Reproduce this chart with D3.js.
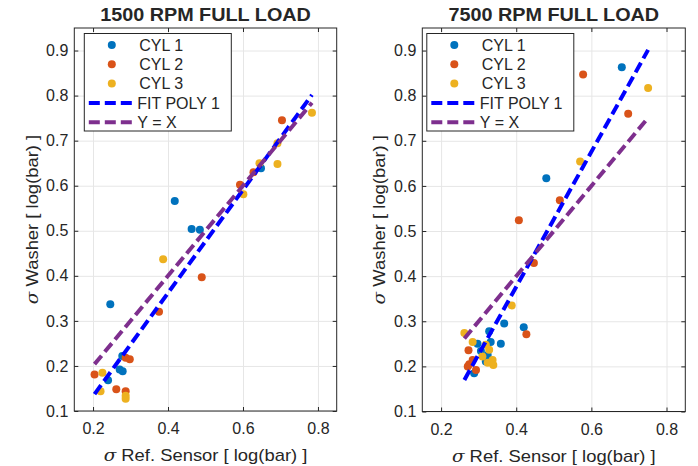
<!DOCTYPE html>
<html>
<head>
<meta charset="utf-8">
<script src="https://cdn.jsdelivr.net/npm/d3@7"></script>
<style>
  body { margin: 0; background: #fff; }
  text { font-family: Arial, "Liberation Sans", sans-serif; fill: #262626; }
</style>
</head>
<body>
<div id="chart"></div>
<script>
var svgWidth = 698;
var svgHeight = 466;

// ---- data ----
var titles = ["1500 RPM FULL LOAD", "7500 RPM FULL LOAD"];
var seriesNames = ["CYL 1", "CYL 2", "CYL 3"];
var lineNames = ["FIT POLY 1", "Y = X"];
var xTicks = [0.2, 0.4, 0.6, 0.8];
var yTicks = [0.1, 0.2, 0.3, 0.4, 0.5, 0.6, 0.7, 0.8, 0.9];

var cyl1_1500_x = [0.418, 0.463, 0.485, 0.246, 0.648, 0.278, 0.271, 0.279, 0.240];
var cyl1_1500_y = [0.566, 0.504, 0.502, 0.337, 0.639, 0.222, 0.192, 0.188, 0.168];
var cyl2_1500_x = [0.704, 0.628, 0.592, 0.490, 0.376, 0.204, 0.287, 0.298, 0.262, 0.287];
var cyl2_1500_y = [0.745, 0.630, 0.602, 0.397, 0.320, 0.181, 0.218, 0.215, 0.148, 0.144];
var cyl3_1500_x = [0.784, 0.692, 0.692, 0.644, 0.601, 0.387, 0.225, 0.220, 0.287, 0.287];
var cyl3_1500_y = [0.762, 0.694, 0.648, 0.650, 0.581, 0.437, 0.185, 0.144, 0.134, 0.127];

var cyl1_7500_x = [0.681, 0.480, 0.368, 0.420, 0.328, 0.297, 0.332, 0.359, 0.306, 0.324, 0.319, 0.288];
var cyl1_7500_y = [0.863, 0.617, 0.295, 0.287, 0.278, 0.250, 0.254, 0.250, 0.234, 0.225, 0.211, 0.185];
var cyl2_7500_x = [0.578, 0.698, 0.516, 0.407, 0.447, 0.427, 0.273, 0.275, 0.293, 0.284, 0.271];
var cyl2_7500_y = [0.847, 0.760, 0.568, 0.524, 0.429, 0.271, 0.236, 0.205, 0.192, 0.214, 0.200];
var cyl3_7500_x = [0.751, 0.570, 0.388, 0.262, 0.284, 0.319, 0.328, 0.310, 0.337, 0.324, 0.339];
var cyl3_7500_y = [0.817, 0.654, 0.335, 0.274, 0.254, 0.248, 0.237, 0.222, 0.214, 0.208, 0.203];

// linear fit [slope, intercept]
var fit1500 = [1.145, -0.096];
var fit7500 = [1.496, -0.222];

var colors = ["#0072BD", "#D95319", "#EDB120"];
var fitColor = "#0000FF";
var idColor = "#7E2F8E";

function zip(xs, ys) {
  return xs.map((x, i) => ({x: x, y: ys[i]}));
}

var panels = [
  {
    title: titles[0], left: 74.3, right: 336.7, top: 28, bottom: 411,
    series: [zip(cyl1_1500_x, cyl1_1500_y), zip(cyl2_1500_x, cyl2_1500_y), zip(cyl3_1500_x, cyl3_1500_y)],
    fit: fit1500, legendDx: 10, ylabelX: 32
  },
  {
    title: titles[1], left: 422.3, right: 685.3, top: 28, bottom: 411.5,
    series: [zip(cyl1_7500_x, cyl1_7500_y), zip(cyl2_7500_x, cyl2_7500_y), zip(cyl3_7500_x, cyl3_7500_y)],
    fit: fit7500, legendDx: 4.5, ylabelX: 379
  }
];

var svg = d3.select("#chart")
  .append("svg")
  .attr("width", svgWidth)
  .attr("height", svgHeight);

function styleAxis(a, color) {
  a.select(".domain").remove();
  a.selectAll(".tick line").attr("stroke", color);
}

panels.forEach(function(p) {
  var width = p.right - p.left;
  var height = p.bottom - p.top;

  var x = d3.scaleLinear().domain([0.15, 0.85]).range([0, width]);
  var y = d3.scaleLinear().domain([0.1, 0.95]).range([height, 0]);

  var g = svg.append("g")
    .attr("transform", `translate(${p.left}, ${p.top})`);

  // grid
  g.append("g")
    .attr("transform", `translate(0, ${height})`)
    .call(d3.axisBottom(x).tickValues(xTicks).tickSize(-height).tickFormat(""))
    .call(styleAxis, "#e6e6e6");
  g.append("g")
    .call(d3.axisLeft(y).tickValues(yTicks).tickSize(-width).tickFormat(""))
    .call(styleAxis, "#e6e6e6");

  // points
  p.series.forEach(function(s, i) {
    g.append("g").selectAll("circle")
      .data(s)
      .enter()
      .append("circle")
      .attr("cx", d => x(d.x))
      .attr("cy", d => y(d.y))
      .attr("r", 4)
      .attr("fill", colors[i]);
  });

  var all = [].concat(...p.series);
  var ext = d3.extent(all, d => d.x);
  var line = d3.line().x(d => x(d[0])).y(d => y(d[1]));

  // fit line
  g.append("path")
    .attr("d", line(ext.map(v => [v, p.fit[0] * v + p.fit[1]])))
    .attr("stroke", fitColor)
    .attr("stroke-width", 4)
    .attr("stroke-dasharray", "11,5")
    .attr("fill", "none");

  // y = x
  g.append("path")
    .attr("d", line(ext.map(v => [v, v])))
    .attr("stroke", idColor)
    .attr("stroke-width", 4)
    .attr("stroke-dasharray", "11,5")
    .attr("fill", "none");

  // box
  g.append("rect")
    .attr("width", width)
    .attr("height", height)
    .attr("fill", "none")
    .attr("stroke", "#262626")
    .attr("stroke-width", 1);

  // axes with inward ticks
  g.append("g")
    .attr("transform", `translate(0, ${height})`)
    .call(d3.axisBottom(x).tickValues(xTicks).tickSize(-4).tickPadding(12).tickFormat(d3.format(".1f")))
    .call(styleAxis, "#262626");
  g.append("g")
    .call(d3.axisLeft(y).tickValues(yTicks).tickSize(-4).tickPadding(6).tickFormat(d3.format(".1f")))
    .call(styleAxis, "#262626");
  g.append("g")
    .call(d3.axisTop(x).tickValues(xTicks).tickSize(-4).tickFormat(""))
    .call(styleAxis, "#262626");
  g.append("g")
    .attr("transform", `translate(${width}, 0)`)
    .call(d3.axisRight(y).tickValues(yTicks).tickSize(-4).tickFormat(""))
    .call(styleAxis, "#262626");
  g.selectAll(".tick text")
    .style("font-size", "16px")
    .attr("fill", "#262626");

  // title
  g.append("text")
    .attr("transform", `translate(${width / 2}, -7) scale(1.1, 1)`)
    .attr("text-anchor", "middle")
    .style("font-size", "18px")
    .style("font-weight", "bold")
    .attr("fill", "#000")
    .text(p.title);

  // x label
  var xl = g.append("text")
    .attr("transform", `translate(${width / 2}, ${height + 50}) scale(1.15, 1)`)
    .attr("text-anchor", "middle")
    .style("font-size", "16px");
  xl.append("tspan").style("font-style", "italic").style("font-family", "'DejaVu Serif', serif").text("\u03c3");
  xl.append("tspan").text(" Ref. Sensor [ log(bar) ]");

  // y label
  var yl = g.append("text")
    .attr("transform", `translate(${p.ylabelX - p.left + 6}, ${height / 2}) rotate(-90) scale(1.15, 1)`)
    .attr("text-anchor", "middle")
    .style("font-size", "16px");
  yl.append("tspan").style("font-style", "italic").style("font-family", "'DejaVu Serif', serif").text("\u03c3");
  yl.append("tspan").text(" Washer [ log(bar) ]");

  // legend
  var lg = g.append("g")
    .attr("transform", `translate(${p.legendDx}, 5.5)`);
  lg.append("rect")
    .attr("width", 147)
    .attr("height", 97.5)
    .attr("fill", "#fff")
    .attr("stroke", "#262626")
    .attr("stroke-width", 1);
  var rowY = i => 11.5 + i * 19.3;
  seriesNames.forEach(function(name, i) {
    lg.append("circle")
      .attr("cx", 27.5)
      .attr("cy", rowY(i))
      .attr("r", 4)
      .attr("fill", colors[i]);
    lg.append("text")
      .attr("x", 55)
      .attr("y", rowY(i))
      .attr("dy", "0.36em")
      .style("font-size", "16px")
      .attr("fill", "#000")
      .text(name);
  });
  lineNames.forEach(function(name, j) {
    var i = j + 3;
    lg.append("line")
      .attr("x1", 4.5).attr("x2", 52.5)
      .attr("y1", rowY(i)).attr("y2", rowY(i))
      .attr("stroke", j === 0 ? fitColor : idColor)
      .attr("stroke-width", 4)
      .attr("stroke-dasharray", "11,5");
    lg.append("text")
      .attr("x", 53)
      .attr("y", rowY(i))
      .attr("dy", "0.36em")
      .style("font-size", "16px")
      .attr("fill", "#000")
      .text(name);
  });
});
</script>
</body>
</html>
